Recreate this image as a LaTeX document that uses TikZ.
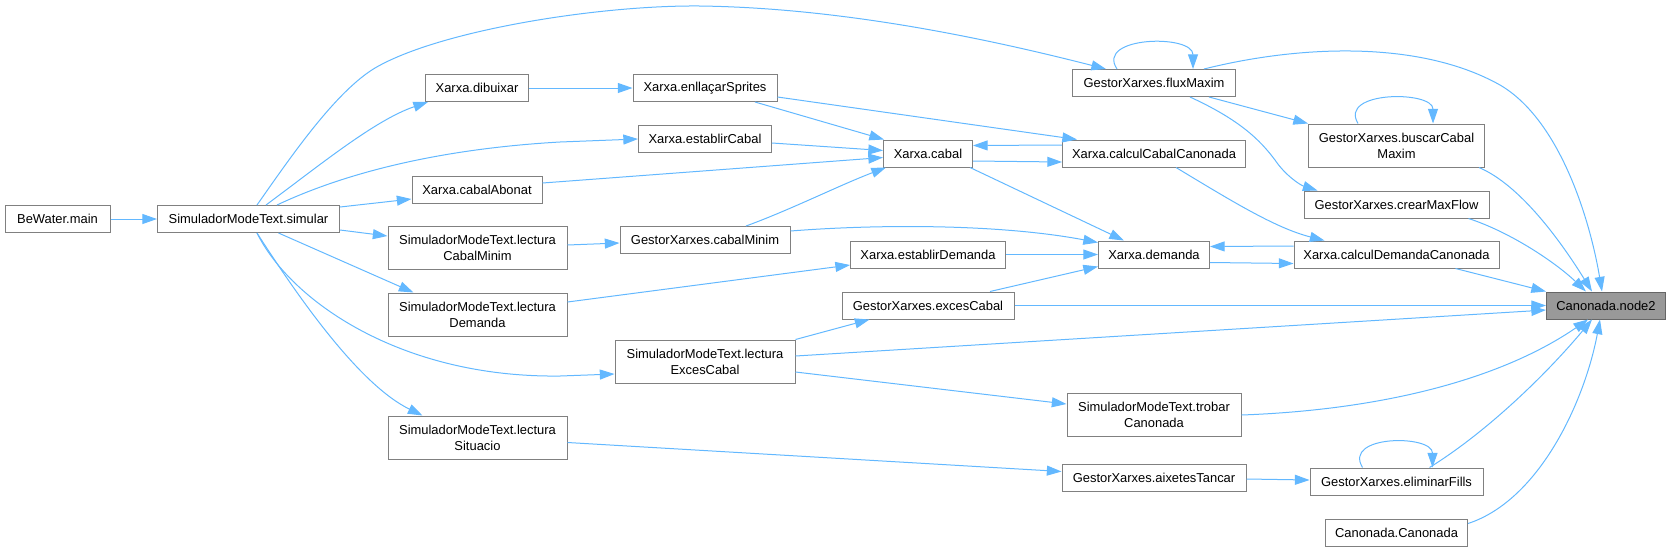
\documentclass[tikz,border=0pt]{standalone}
\usepackage{fontspec}
\setmainfont{Liberation Sans}
\usetikzlibrary{arrows.meta,calc}
\definecolor{edgec}{HTML}{63B8FF}
\definecolor{boxc}{HTML}{808080}
\definecolor{hifill}{HTML}{999999}
\definecolor{hidraw}{HTML}{666666}
\begin{document}
\begin{tikzpicture}[x=0.75pt,y=-0.75pt,
  fn/.style={draw=boxc,line width=0.75pt,fill=white,inner sep=0pt,align=center,
    font=\fontsize{9.7}{12}\selectfont,text=black},
  sa/.style={minimum height=20.25pt},
  sb/.style={minimum height=32.25pt},
  hl/.style={fn,fill=hifill,draw=hidraw},
  ed/.style={draw=edgec,line width=0.75pt,-{Triangle[length=11pt,width=7.5pt]}}]
\useasboundingbox (0,0) rectangle (1670,551);
% nodes
\node[fn,sa,minimum width=78.75pt] (main) at (57.5,219) {BeWater.main};
\node[fn,sa,minimum width=136.5pt] (simular) at (248.5,219) {SimuladorModeText.simular};
\node[fn,sa,minimum width=77.25pt] (dibuixar) at (477,88) {Xarxa.dibuixar};
\node[fn,sa,minimum width=97.5pt] (cabalAbonat) at (477,189.5) {Xarxa.cabalAbonat};
\node[fn,sb,minimum width=134.25pt] (lCabalMinim) at (477.5,248) {SimuladorModeText.lectura\\CabalMinim};
\node[fn,sb,minimum width=134.25pt] (lDemanda) at (477.5,314.5) {SimuladorModeText.lectura\\Demanda};
\node[fn,sb,minimum width=134.25pt] (lSituacio) at (477.5,437.5) {SimuladorModeText.lectura\\Situacio};
\node[fn,sa,minimum width=108pt] (enllacar) at (705,88) {Xarxa.enllaçarSprites};
\node[fn,sa,minimum width=99.75pt] (establirCabal) at (705,139) {Xarxa.establirCabal};
\node[fn,sa,minimum width=127.5pt] (cabalMinim) at (705,240) {GestorXarxes.cabalMinim};
\node[fn,sb,minimum width=135pt] (lExces) at (705,361.5) {SimuladorModeText.lectura\\ExcesCabal};
\node[fn,sa,minimum width=66.75pt] (cabal) at (928,153.5) {Xarxa.cabal};
\node[fn,sa,minimum width=116.25pt] (establirDemanda) at (928,254.5) {Xarxa.establirDemanda};
\node[fn,sa,minimum width=129pt] (excesCabal) at (928,305.5) {GestorXarxes.excesCabal};
\node[fn,sa,minimum width=122.25pt] (fluxMaxim) at (1154,83) {GestorXarxes.fluxMaxim};
\node[fn,sa,minimum width=137.25pt] (calcCabal) at (1154,153.5) {Xarxa.calculCabalCanonada};
\node[fn,sa,minimum width=83.25pt] (demanda) at (1154,254.5) {Xarxa.demanda};
\node[fn,sb,minimum width=130.5pt] (trobar) at (1154,415) {SimuladorModeText.trobar\\Canonada};
\node[fn,sa,minimum width=138pt] (aixetes) at (1154,477.5) {GestorXarxes.aixetesTancar};
\node[fn,sb,minimum width=132pt] (buscar) at (1396.5,145.5) {GestorXarxes.buscarCabal\\Maxim};
\node[fn,sa,minimum width=138.75pt] (crear) at (1396.5,204.5) {GestorXarxes.crearMaxFlow};
\node[fn,sa,minimum width=153.75pt] (calcDem) at (1396.5,254.5) {Xarxa.calculDemandaCanonada};
\node[fn,sa,minimum width=129.75pt] (eliminar) at (1396.5,481.5) {GestorXarxes.eliminarFills};
\node[fn,sa,minimum width=106.5pt] (canonada) at (1396.5,532.5) {Canonada.Canonada};
\node[hl,sa,minimum width=89.25pt] (node2) at (1606,305.5) {Canonada.node2};
% edges
\draw[ed] (main) -- (simular);
\draw[ed] ($(simular.north)+(17.5,0)$) .. controls (320,165) and (375,120) .. ($(dibuixar.south west)+(3,0)$);
\draw[ed] ($(simular.north)+(8.5,0)$) .. controls (290,158) and (335,92) .. (375,68)
  .. controls (440,30) and (600,5) .. (700,6) .. controls (850,8) and (1000,42) .. ($(fluxMaxim.north west)+(34,0)$);
\draw[ed] ($(simular.north)+(28.5,0)$) .. controls (330,180) and (420,150) .. (560,142) -- (establirCabal.west);
\draw[ed] ($(simular.east)+(0,-12)$) -- ($(cabalAbonat.west)+(0,9.5)$);
\draw[ed] ($(simular.east)+(0,11)$) -- ($(lCabalMinim.west)+(0,-12)$);
\draw[ed] ($(simular.south)+(30,0)$) -- ($(lDemanda.north west)+(26,0)$);
\draw[ed] ($(simular.south)+(8.5,0)$) .. controls (290,300) and (400,378) .. (560,376) -- ($(lExces.west)+(0,12.5)$);
\draw[ed] ($(simular.south)+(8.5,0)$) .. controls (300,300) and (360,385) .. ($(lSituacio.north west)+(35,0)$);
\draw[ed] (dibuixar) -- (enllacar);
\draw[ed] ($(enllacar.south)+(50,0)$) -- ($(cabal.north west)+(1,0)$);
\draw[ed] ($(enllacar.east)+(0,9)$) -- ($(calcCabal.north west)+(15,0)$);
\draw[ed] ($(establirCabal.east)+(0,4)$) -- ($(cabal.west)+(0,-3)$);
\draw[ed] ($(cabalAbonat.east)+(0,-6.5)$) -- ($(cabal.west)+(0,4)$);
\draw[ed] ($(calcCabal.west)+(0,-8.5)$) -- ($(cabal.east)+(0,-8)$);
\draw[ed] ($(cabal.east)+(0,7.5)$) -- ($(calcCabal.west)+(0,8.5)$);
\draw[ed] ($(cabal.south)+(42,0)$) -- ($(demanda.north west)+(26,0)$);
\draw[ed] ($(lCabalMinim.east)+(0,-3)$) -- ($(cabalMinim.west)+(0,3)$);
\draw[ed] ($(cabalMinim.north)+(41,0)$) .. controls (790,210) and (840,185) .. ($(cabal.south west)+(3,0)$);
\draw[ed] ($(cabalMinim.east)+(0,-9)$) .. controls (880,224) and (1000,224) .. ($(demanda.west)+(0,-12)$);
\draw[ed] ($(lDemanda.east)+(0,-12.5)$) -- ($(establirDemanda.west)+(0,10.5)$);
\draw[ed] (establirDemanda) -- (demanda);
\draw[ed] ($(excesCabal.north)+(62,0)$) -- ($(demanda.west)+(0,12)$);
\draw[ed] (lExces.north east) -- ($(excesCabal.south west)+(28,0)$);
\draw[ed] ($(lExces.east)+(0,-5.5)$) -- ($(node2.west)+(0,4.5)$);
\draw[ed] ($(lExces.east)+(0,10.5)$) -- ($(trobar.west)+(0,-11)$);
\draw[ed] ($(lSituacio.east)+(0,5)$) -- ($(aixetes.west)+(0,-6)$);
\draw[ed] ($(aixetes.east)+(0,1.5)$) -- ($(eliminar.west)+(0,-1.5)$);
\draw[ed] ($(fluxMaxim.north)+(-37,0)$) .. controls +(-22,-33) and +(0,-35) .. ($(fluxMaxim.north)+(39,0)$);
\draw[ed] ($(fluxMaxim.south)+(55,0)$) -- (buscar.north west);
\draw[ed] ($(fluxMaxim.south)+(36,0)$) .. controls (1240,120) and (1260,140) .. (1275,160)
  .. controls (1285,175) and (1300,185) .. ($(crear.north west)+(14,0)$);
\draw[ed] ($(fluxMaxim.north)+(50,0)$) .. controls (1300,45) and (1420,40) .. (1500,85)
  .. controls (1560,120) and (1590,220) .. ($(node2.north)+(-4,0)$);
\draw[ed] ($(buscar.north)+(-38.5,0)$) .. controls +(-20,-33) and +(0,-33) .. ($(buscar.north)+(36.5,0)$);
\draw[ed] ($(buscar.south east)+(-6,0)$) .. controls (1520,185) and (1560,240) .. ($(node2.north)+(-14,0)$);
\draw[ed] ($(crear.south)+(72,0)$) .. controls (1510,232) and (1555,262) .. ($(node2.north)+(-20,0)$);
\draw[ed] ($(calcCabal.south)+(22,0)$) .. controls (1230,200) and (1275,228) .. ($(calcDem.north west)+(31,0)$);
\draw[ed] ($(calcDem.west)+(0,-8.5)$) -- ($(demanda.east)+(0,-8)$);
\draw[ed] ($(demanda.east)+(0,8)$) -- ($(calcDem.west)+(0,9)$);
\draw[ed] ($(calcDem.south east)+(-44,0)$) -- (node2.north west);
\draw[ed] (excesCabal) -- (node2);
\draw[ed] (trobar.east) .. controls (1380,410) and (1500,380) .. ($(node2.south)+(-18,0)$);
\draw[ed] ($(eliminar.north east)+(-54,0)$) .. controls (1490,430) and (1550,370) .. ($(node2.south)+(-14,0)$);
\draw[ed] ($(eliminar.north)+(-34,0)$) .. controls +(-20,-33) and +(0,-33) .. ($(eliminar.north)+(36,0)$);
\draw[ed] ($(canonada.east)+(0,-9)$) .. controls (1540,500) and (1585,400) .. ($(node2.south)+(-6,0)$);
\end{tikzpicture}
\end{document}
